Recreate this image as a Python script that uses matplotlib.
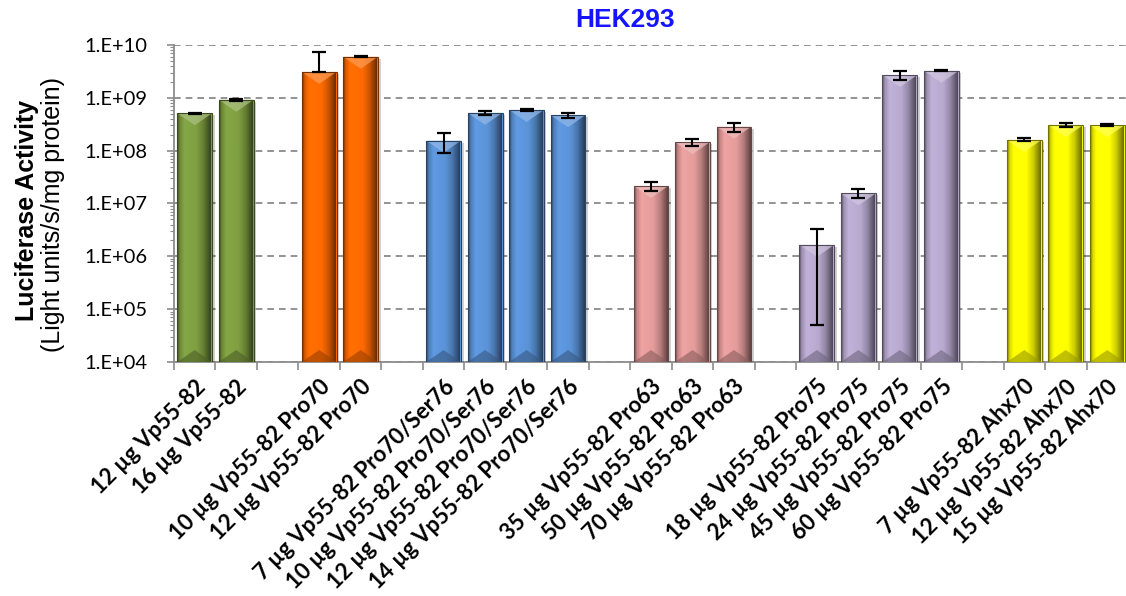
import numpy as np
import matplotlib
matplotlib.use('Agg')
import matplotlib.pyplot as plt
from matplotlib.patches import Polygon, Rectangle
from matplotlib.ticker import FixedLocator, FuncFormatter, LogLocator, NullFormatter

# Vp55-82 constructs in HEK293, one list per construct family
labels_wt = ['12 µg Vp55-82', '16 µg Vp55-82']
labels_p70 = ['10 µg Vp55-82 Pro70', '12 µg Vp55-82 Pro70']
labels_p70s76 = ['7 µg Vp55-82 Pro70/Ser76', '10 µg Vp55-82 Pro70/Ser76',
                 '12 µg Vp55-82 Pro70/Ser76', '14 µg Vp55-82 Pro70/Ser76']
labels_p63 = ['35 µg Vp55-82 Pro63', '50 µg Vp55-82 Pro63', '70 µg Vp55-82 Pro63']
labels_p75 = ['18 µg Vp55-82 Pro75', '24 µg Vp55-82 Pro75',
              '45 µg Vp55-82 Pro75', '60 µg Vp55-82 Pro75']
labels_ahx = ['7 µg Vp55-82 Ahx70', '12 µg Vp55-82 Ahx70', '15 µg Vp55-82 Ahx70']

act_wt = [5.1e8, 9.2e8]
act_p70 = [3.1e9, 6.0e9]
act_p70s76 = [1.55e8, 5.2e8, 5.9e8, 4.7e8]
act_p63 = [2.15e7, 1.45e8, 2.85e8]
act_p75 = [1.65e6, 1.55e7, 2.7e9, 3.25e9]
act_ahx = [1.6e8, 3.05e8, 3.05e8]

sd_wt = [1.5e7, 3.5e7]
sd_p70 = [4.4e9, 1.0e8]
sd_p70s76 = [6.3e7, 4.5e7, 1.5e7, 5.5e7]
sd_p63 = [4.0e6, 2.2e7, 5.5e7]
sd_p75 = [1.6e6, 3.0e6, 5.0e8, 5.0e7]
sd_ahx = [1.0e7, 2.2e7, 1.2e7]

groups = [
    (labels_wt, act_wt, sd_wt, '#7f9f41'),
    (labels_p70, act_p70, sd_p70, '#ff6a00'),
    (labels_p70s76, act_p70s76, sd_p70s76, '#5b93d8'),
    (labels_p63, act_p63, sd_p63, '#e49c9b'),
    (labels_p75, act_p75, sd_p75, '#b8a9cf'),
    (labels_ahx, act_ahx, sd_ahx, '#ffff00'),
]

fig = plt.figure(figsize=(11.26, 5.96), dpi=100)
ax = fig.add_axes([174 / 1126, 1 - 362 / 596, 954 / 1126, 317 / 596])
ax.set_yscale('log')
ymin, ymax = 1e4, 1e10

# one empty slot between construct families
xs, vals, errs, cols, names = [], [], [], [], []
pos = 0
for lab, act, sd, col in groups:
    for l, v, e in zip(lab, act, sd):
        xs.append(pos)
        vals.append(v)
        errs.append(e)
        cols.append(col)
        names.append(l)
        pos += 1
    pos += 1
nslots = pos - 1
xs = np.array(xs, dtype=float)
vals = np.array(vals)
errs = np.array(errs)

ax.set_xlim(-0.5, nslots - 0.5)
ax.set_ylim(ymin, ymax)

width = 0.84
bars = ax.bar(xs, vals - ymin, bottom=ymin, width=width, color=cols,
              edgecolor='none', zorder=3)

# bevel shading across each bar
t = np.linspace(0, 1, 64)
shade = np.interp(t, [0, 0.06, 0.2, 0.55, 0.75, 0.92, 1.0],
                  [0.55, 0.85, 1.05, 1.0, 0.8, 0.5, 0.35])
decade_px = 317 / 6.0
slot_px = 954 / nslots
for b, col in zip(bars, cols):
    rgb = np.array(matplotlib.colors.to_rgb(col))
    x0 = b.get_x()
    x1 = x0 + b.get_width()
    top = b.get_y() + b.get_height()
    # soft drop shadow
    dx = 2.5 / slot_px
    ax.add_patch(Rectangle((x0 + dx, ymin), x1 - x0, top * 10 ** (-2 / decade_px) - ymin,
                           facecolor='#000000', alpha=0.18, edgecolor='none', zorder=2.9))
    img = np.clip(rgb[None, :] * shade[:, None], 0, 1)[None, :, :]
    im = ax.imshow(img, extent=(x0, x1, ymin, ymax), aspect='auto',
                   interpolation='bilinear', zorder=3.1)
    im.set_clip_path(b)
    # lighter cap and darker foot, 12 px deep
    k = 10 ** (12 / decade_px)
    light = np.clip(rgb + (1 - rgb) * 0.35, 0, 1)
    dark = rgb * 0.6
    xc = (x0 + x1) / 2
    ax.add_patch(Polygon([(x0, top), (x1, top), (xc, top / k)], closed=True,
                         facecolor=light, edgecolor='none', alpha=0.7, zorder=3.2))
    ax.add_patch(Polygon([(x0, ymin), (x1, ymin), (xc, ymin * k)], closed=True,
                         facecolor=dark, edgecolor='none', alpha=0.6, zorder=3.2))
    ax.add_patch(Rectangle((x0, ymin), x1 - x0, top - ymin, facecolor='none',
                           edgecolor=rgb * 0.45, lw=0.8, zorder=3.3))

# lower arm is dropped where it would go below zero
err_lo = np.where(errs < vals, errs, 0.0)
ax.errorbar(xs, vals, yerr=[err_lo, errs], fmt='none', ecolor='black',
            elinewidth=1.5, capsize=5, capthick=1.6, zorder=5)

ax.set_xlim(-0.5, nslots - 0.5)
ax.set_ylim(ymin, ymax)

# axes styling
for s in ['top', 'right']:
    ax.spines[s].set_visible(False)
for s in ['left', 'bottom']:
    ax.spines[s].set_color('#8c8c8c')
    ax.spines[s].set_linewidth(1.3)

ax.yaxis.set_major_locator(LogLocator(base=10, numticks=10))
ax.yaxis.set_minor_locator(LogLocator(base=10, subs=np.arange(2, 10), numticks=10))
ax.yaxis.set_minor_formatter(NullFormatter())
ax.yaxis.set_major_formatter(FuncFormatter(lambda v, p: '1.E+%02d' % round(np.log10(v))))
ax.tick_params(axis='y', which='major', length=5, color='#8c8c8c', width=1.2,
               labelsize=14.5, pad=14)
ax.tick_params(axis='y', which='minor', length=3, color='#8c8c8c', width=0.8)
for lab in ax.get_yticklabels():
    lab.set_fontfamily('Lato')

ax.yaxis.grid(True, which='major', color='#808080', linestyle=(0, (4, 3)), lw=1.2)
ax.set_axisbelow(True)

ax.set_xticks(xs)
ax.set_xticklabels(names, rotation=45, ha='right', rotation_mode='anchor',
                   fontfamily='Lato', fontweight='bold', fontsize=16)
ax.xaxis.set_minor_locator(FixedLocator(np.arange(-0.5, nslots, 1.0)))
ax.tick_params(axis='x', which='major', length=0, pad=10)
ax.tick_params(axis='x', which='minor', length=6, color='#8c8c8c', width=1.2)

fig.text(625 / 1126, 1 - 20 / 596, 'HEK293', color='#1414ff', fontsize=19,
         fontweight='bold', fontfamily='Liberation Sans', ha='center', va='center')
fig.text(27 / 1126, 1 - 210 / 596, 'Luciferase Activity', rotation=90, fontsize=18,
         fontweight='bold', fontfamily='Liberation Sans', ha='center', va='center')
fig.text(53 / 1126, 1 - 214 / 596, '(Light units/s/mg protein)', rotation=90,
         fontsize=18, fontfamily='Liberation Sans', ha='center', va='center')

fig.savefig('out.png', dpi=100)
